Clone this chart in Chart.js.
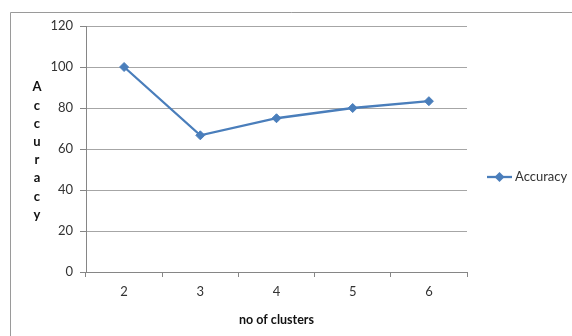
<!DOCTYPE html>
<html>
<head>
<meta charset="utf-8">
<script src="https://cdn.jsdelivr.net/npm/chart.js@4/dist/chart.umd.min.js"></script>
<style>
  html, body { margin: 0; padding: 0; background: #ffffff; }
  #wrap { position: relative; width: 572px; height: 336px; }
</style>
</head>
<body>
<div id="wrap"><canvas id="chart" width="572" height="336"></canvas></div>
<script>
// Clustering accuracy by number of clusters
const clusterCounts = ['2', '3', '4', '5', '6'];
const accuracyValues = [100, 66.67, 75, 80, 83.33];
const yTickValues = [0, 20, 40, 60, 80, 100, 120];
const seriesName = 'Accuracy';
const xTitle = 'no of clusters';
const yTitle = 'Accuracy';

const LINE_BLUE = '#4a7ebb';
const AXIS_GRAY = '#868686';
const GRID_GRAY = '#a6a6a6';
const TEXT = '#333333';
const FONT = 'Lato, "Open Sans", "Liberation Sans", sans-serif';

// Frame, stacked vertical axis title and legend entry
const decorations = {
  id: 'decorations',
  afterDraw(chart) {
    const ctx = chart.ctx;
    const area = chart.chartArea;
    ctx.save();

    // outer frame
    ctx.strokeStyle = '#9a9a9a';
    ctx.lineWidth = 1;
    ctx.beginPath();
    ctx.moveTo(10.5, 340);
    ctx.lineTo(10.5, 12.5);
    ctx.lineTo(580, 12.5);
    ctx.stroke();

    // y title, one letter per row
    ctx.fillStyle = '#111111';
    ctx.font = 'bold 13px ' + FONT;
    ctx.textAlign = 'center';
    ctx.textBaseline = 'middle';
    const step = 18.2;
    const letters = yTitle.split('');
    const midY = (area.top + area.bottom) / 2 + 2;
    const startY = midY - step * (letters.length - 1) / 2;
    letters.forEach((ch, i) => ctx.fillText(ch, 37, startY + i * step));

    // legend entry: line with diamond marker
    const ds = chart.data.datasets[0];
    const ly = 177;
    const lx0 = 487, lx1 = 512;
    ctx.strokeStyle = ds.borderColor;
    ctx.lineWidth = 2.3;
    ctx.beginPath();
    ctx.moveTo(lx0, ly);
    ctx.lineTo(lx1, ly);
    ctx.stroke();
    const cx = (lx0 + lx1) / 2, r = 5;
    ctx.fillStyle = ds.pointBackgroundColor;
    ctx.beginPath();
    ctx.moveTo(cx, ly - r);
    ctx.lineTo(cx + r, ly);
    ctx.lineTo(cx, ly + r);
    ctx.lineTo(cx - r, ly);
    ctx.closePath();
    ctx.fill();
    ctx.fillStyle = TEXT;
    ctx.font = '13px ' + FONT;
    ctx.textAlign = 'left';
    ctx.fillText(ds.label, 515, ly);

    ctx.restore();
  }
};

new Chart(document.getElementById('chart'), {
  type: 'line',
  data: {
    labels: clusterCounts,
    datasets: [{
      label: seriesName,
      data: accuracyValues,
      borderColor: LINE_BLUE,
      backgroundColor: LINE_BLUE,
      pointBackgroundColor: LINE_BLUE,
      pointBorderColor: LINE_BLUE,
      borderWidth: 2.3,
      pointStyle: 'rectRot',
      pointRadius: 4.5,
      pointBorderWidth: 1,
      tension: 0,
      fill: false
    }]
  },
  options: {
    responsive: false,
    animation: false,
    devicePixelRatio: 1,
    layout: { padding: { left: 0, top: 26, right: 105, bottom: 0 } },
    plugins: {
      legend: { display: false },
      tooltip: { enabled: false }
    },
    scales: {
      x: {
        offset: true,
        grid: {
          offset: true,
          drawOnChartArea: false,
          drawTicks: true,
          tickLength: 5,
          color: AXIS_GRAY
        },
        border: { color: AXIS_GRAY, width: 1 },
        ticks: { color: TEXT, font: { family: FONT, size: 13 }, padding: 7, maxRotation: 0 },
        title: {
          display: true,
          text: xTitle,
          color: '#111111',
          font: { family: FONT, size: 12.5, weight: 'bold' },
          padding: { top: 0, bottom: 9 }
        },
        afterFit(scale) { scale.height = 64; }
      },
      y: {
        min: 0,
        max: 120,
        afterBuildTicks(scale) { scale.ticks = yTickValues.map(v => ({ value: v })); },
        grid: {
          color: GRID_GRAY,
          drawTicks: true,
          tickLength: 6,
          tickColor: AXIS_GRAY
        },
        border: { color: AXIS_GRAY, width: 1 },
        ticks: { color: TEXT, font: { family: FONT, size: 13 }, padding: 7 },
        afterFit(scale) { scale.width = 86; }
      }
    }
  },
  plugins: [decorations]
});
</script>
</body>
</html>
